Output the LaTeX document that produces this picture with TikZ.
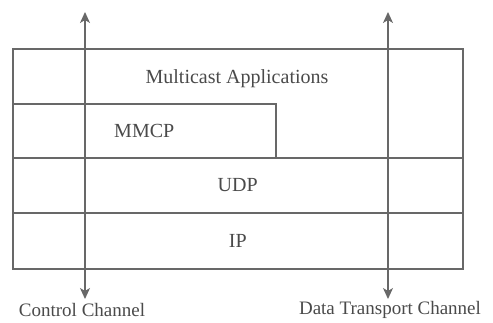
\documentclass[tikz,border=0pt]{standalone}
\usepackage{fontspec}
\setmainfont{Liberation Serif}
\usetikzlibrary{arrows.meta}
\definecolor{linegray}{HTML}{686868}
\definecolor{textgray}{HTML}{4A4A4A}
\begin{document}
\begin{tikzpicture}[x=1pt,y=-1pt,
  layer/.style={draw=linegray,line width=1.5pt,inner sep=0pt,text=textgray,
    font=\fontsize{20}{24}\selectfont},
  chan/.style={draw=linegray,line width=1.4pt,{Stealth[length=11pt,width=10pt,inset=3pt]}-{Stealth[length=11pt,width=10pt,inset=3pt]}},
  lab/.style={text=textgray,inner sep=0pt,font=\fontsize{19}{22}\selectfont}]
\useasboundingbox (0,0) rectangle (493,322);
\node[layer,minimum width=450pt,minimum height=109pt,anchor=north west] (app) at (12,48) {};
\node[text=textgray,font=\fontsize{20}{24}\selectfont] (apptext) at (237,79) {Multicast Applications};
\node[layer,minimum width=263pt,minimum height=54pt,anchor=north west] (mmcp) at (12,103) {MMCP};
\node[layer,minimum width=450pt,minimum height=55pt,anchor=north west] (udp) at (12,157) {UDP};
\node[layer,minimum width=450pt,minimum height=56pt,anchor=north west] (ip) at (12,212) {IP};
\coordinate (ctop) at (85,12);
\coordinate (cbot) at (85,299);
\coordinate (dtop) at (388,12);
\coordinate (dbot) at (388,299);
\draw[chan] (ctop) -- (cbot);
\draw[chan] (dtop) -- (dbot);
\node[lab] (clab) at (82,310) {Control Channel};
\node[lab] (dlab) at (390,310) {Data Transport Channel};
\end{tikzpicture}
\end{document}
